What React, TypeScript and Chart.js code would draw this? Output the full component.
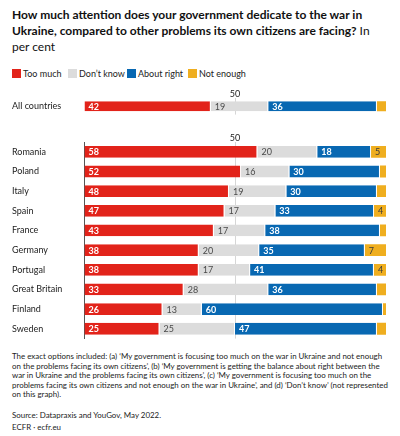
import React, { useEffect, useLayoutEffect, useRef } from "react";
import { Chart, registerables } from "chart.js";

Chart.register(...registerables);

const allCategories = ["All countries"];
const allTooMuch = [42];
const allDontKnow = [19];
const allAboutRight = [36];
const allNotEnough = [3];

const categories = ["Romania", "Poland", "Italy", "Spain", "France", "Germany", "Portugal", "Great Britain", "Finland", "Sweden"];
const tooMuch = [58, 52, 48, 47, 43, 38, 38, 33, 26, 25];
const dontKnow = [20, 16, 19, 17, 17, 20, 17, 28, 13, 25];
const aboutRight = [18, 30, 30, 33, 38, 35, 41, 36, 60, 47];
const notEnough = [5, 2, 3, 4, 2, 7, 4, 3, 1, 3];

const tickValues = [0, 50, 100];
const tickLabelShown = [50];

const FONT = "Lato, 'Open Sans', sans-serif";
const RED = "#E2231A";
const GREY = "#DCDCDC";
const BLUE = "#0868B2";
const YELLOW = "#EFAE1F";

const seriesNames = ["Too much", "Don\u2019t know", "About right", "Not enough"];
const seriesColors = [RED, GREY, BLUE, YELLOW];
const labelColors = ["#ffffff", "#4a4a4a", "#ffffff", "#3a3a3a"];
const labelBold = [true, false, true, false];

function normalise(rows: number[][]): number[][] {
  const n = rows[0].length;
  const totals = Array.from({ length: n }, (_, i) => rows.reduce((s, r) => s + r[i], 0));
  return rows.map((r) => r.map((v, i) => (v / totals[i]) * 100));
}

const labelPlugin = {
  id: "segLabels",
  afterDatasetsDraw(chart: any) {
    const ctx = chart.ctx;
    ctx.save();
    chart.data.datasets.forEach((ds: any, di: number) => {
      const meta = chart.getDatasetMeta(di);
      meta.data.forEach((el: any, i: number) => {
        const raw = ds.rawValues[i];
        if (di === 3 && raw < 4) return;
        ctx.font = `${labelBold[di] ? "bold " : ""}9px ${FONT}`;
        ctx.fillStyle = labelColors[di];
        ctx.textAlign = "left";
        ctx.textBaseline = "middle";
        const left = Math.min(el.base, el.x);
        ctx.fillText(String(raw), left + 4, el.y + 0.5);
      });
    });
    const xs = chart.scales.x;
    ctx.font = `9px ${FONT}`;
    ctx.fillStyle = "#222";
    ctx.textAlign = "center";
    ctx.textBaseline = "middle";
    tickLabelShown.forEach((v) => {
      ctx.fillText(String(v), xs.getPixelForValue(v), chart.chartArea.top - 4);
    });
    ctx.restore();
  },
};

function makeConfig(labels: string[], rows: number[][], showBorder: boolean) {
  const norm = normalise(rows);
  return {
    type: "bar" as const,
    data: {
      labels,
      datasets: rows.map((r, k) => ({
        label: seriesNames[k],
        data: norm[k],
        rawValues: r,
        backgroundColor: seriesColors[k],
        borderColor: "#ffffff",
        borderWidth: { left: 0, right: k < 3 ? 1 : 0, top: 0, bottom: 0 },
        borderSkipped: false,
        barPercentage: 0.6,
        categoryPercentage: 1,
      })),
    },
    options: {
      indexAxis: "y" as const,
      responsive: false,
      animation: false as const,
      devicePixelRatio: 1,
      layout: { padding: { left: 12, right: 14, top: 0, bottom: 0 } },
      plugins: { legend: { display: false }, tooltip: { enabled: false } },
      scales: {
        x: {
          position: "top" as const,
          stacked: true,
          min: 0,
          max: 100,
          afterBuildTicks(scale: any) {
            scale.ticks = tickValues.map((v) => ({ value: v }));
          },
          afterFit(scale: any) {
            scale.height = 16;
          },
          ticks: {
            padding: 0,
            font: { family: FONT, size: 9 },
            callback: () => "",
          },
          grid: {
            drawTicks: false,
            color: (c: any) => (c.tick && tickLabelShown.includes(c.tick.value) ? "#d6d6d6" : "rgba(0,0,0,0)"),
          },
          border: { display: false },
        },
        y: {
          stacked: true,
          afterFit(scale: any) {
            scale.width = 72;
          },
          ticks: {
            crossAlign: "far" as const,
            padding: 0,
            color: "#222",
            font: { family: FONT, size: 9 },
          },
          grid: { display: false },
          border: { display: showBorder, color: "#555", width: 1 },
        },
      },
    },
    plugins: [labelPlugin],
  };
}

function BarChart(props: { labels: string[]; rows: number[][]; border: boolean; top: number; height: number }) {
  const ref = useRef<HTMLCanvasElement | null>(null);
  useEffect(() => {
    if (!ref.current) return;
    const chart = new Chart(ref.current, makeConfig(props.labels, props.rows, props.border) as any);
    return () => chart.destroy();
  }, []);
  return (
    <canvas
      ref={ref}
      width={400}
      height={props.height}
      style={{ position: "absolute", left: 0, top: props.top, width: 400, height: props.height }}
    />
  );
}

const footLines = [
  "The exact options included: (a) \u2018My government is focusing too much on the war in Ukraine and not enough",
  "on the problems facing its own citizens\u2019, (b) \u2018My government is getting the balance about right between the",
  "war in Ukraine and the problems facing its own citizens\u2019, (c) \u2018My government is focusing too much on the",
  "problems facing its own citizens and not enough on the war in Ukraine\u2019, and (d) \u2018Don\u2019t know\u2019 (not represented",
  "on this graph).",
];
const FOOT_TARGET_WIDTH = 370;

export default function App() {
  const legendX = [12, 68, 127, 188];
  const footRef = useRef<HTMLDivElement | null>(null);
  const firstRef = useRef<HTMLSpanElement | null>(null);
  useLayoutEffect(() => {
    const box = footRef.current;
    const first = firstRef.current;
    if (!box || !first) return;
    let fs = 8;
    for (let i = 0; i < 6; i++) {
      box.style.fontSize = fs + "px";
      const w = first.getBoundingClientRect().width;
      if (w <= 0) break;
      fs = fs * (FOOT_TARGET_WIDTH / w);
    }
    box.style.fontSize = fs + "px";
    if (first.getBoundingClientRect().width > FOOT_TARGET_WIDTH + 4) {
      box.style.fontSize = fs * 0.97 + "px";
    }
  }, []);
  return (
    <div style={{ position: "absolute", left: 0, top: 0, width: 400, height: 436, background: "#fff", fontFamily: FONT, color: "#111", overflow: "hidden" }}>
      <div style={{ position: "absolute", left: 12, top: 7, fontSize: 12, lineHeight: "16px", whiteSpace: "nowrap", color: "#111" }}>
        <b>How much attention does your government dedicate to the war in</b>
        <br />
        <b>Ukraine, compared to other problems its own citizens are facing?</b> In
        <br />
        per cent
      </div>
      {seriesNames.map((n, i) => (
        <div key={n} style={{ position: "absolute", left: legendX[i], top: 68, height: 10, display: "flex", alignItems: "center", whiteSpace: "nowrap", fontSize: 9, color: "#222" }}>
          <span style={{ display: "inline-block", width: 9, height: 9, background: seriesColors[i], marginRight: 2 }} />
          {n}
        </div>
      ))}
      <BarChart labels={allCategories} rows={[allTooMuch, allDontKnow, allAboutRight, allNotEnough]} border={false} top={82} height={38} />
      <BarChart labels={categories} rows={[tooMuch, dontKnow, aboutRight, notEnough]} border={true} top={126} height={218} />
      <div ref={footRef} style={{ position: "absolute", left: 12, top: 352, fontSize: 8, lineHeight: "9.5px", whiteSpace: "nowrap", color: "#222" }}>
        {footLines.map((l, i) => (
          <div key={i}>
            <span ref={i === 0 ? firstRef : undefined}>{l}</span>
          </div>
        ))}
        <div style={{ marginTop: 11 }}>Source: Datapraxis and YouGov, May 2022.</div>
        <div style={{ marginTop: 3 }}>ECFR · ecfr.eu</div>
      </div>
    </div>
  );
}
